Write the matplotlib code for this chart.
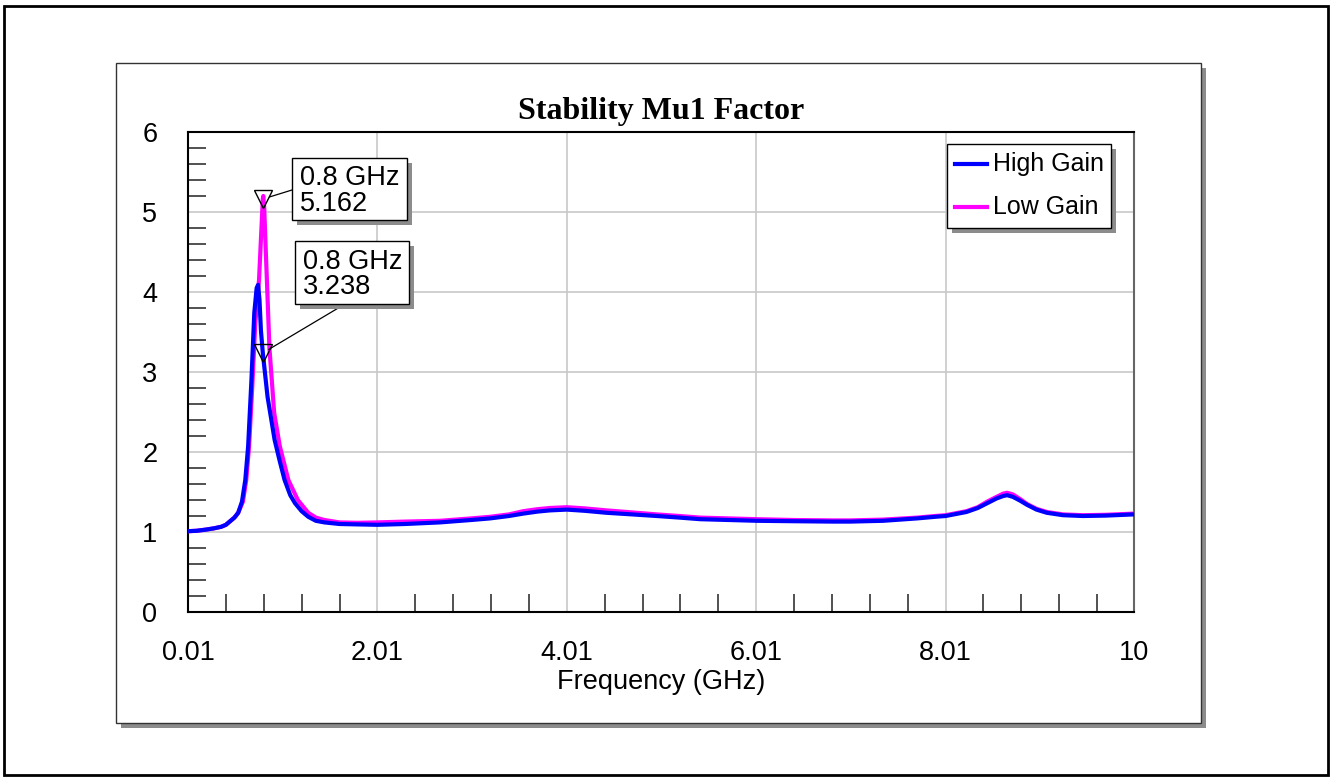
import matplotlib
matplotlib.use("Agg")
import matplotlib.pyplot as plt
from matplotlib.patches import Rectangle
from matplotlib.lines import Line2D
from matplotlib.ticker import MultipleLocator, FixedLocator

# ---- data ----
freq_high = [0.01, 0.1, 0.2, 0.28, 0.36, 0.41, 0.46, 0.50, 0.54, 0.58, 0.615,
             0.645, 0.68, 0.71, 0.735, 0.75, 0.765, 0.78, 0.80, 0.85, 0.925,
             0.98, 1.03, 1.09, 1.14, 1.21, 1.28, 1.36, 1.45, 1.61, 1.80, 2.01,
             2.30, 2.67, 3.00, 3.20, 3.40, 3.55, 3.70, 3.83, 4.01, 4.20, 4.43,
             4.70, 4.96, 5.20, 5.42, 6.02, 6.40, 6.82, 7.00, 7.35, 7.71, 7.90,
             8.01, 8.23, 8.35, 8.45, 8.55, 8.62, 8.66, 8.72, 8.80, 8.87, 8.97,
             9.08, 9.25, 9.46, 9.70, 10.0]
mu_high = [1.01, 1.015, 1.03, 1.045, 1.065, 1.09, 1.14, 1.18, 1.24, 1.38, 1.65,
           2.07, 2.9, 3.74, 4.05, 4.09, 3.9, 3.52, 3.238, 2.69, 2.15,
           1.88, 1.65, 1.46, 1.36, 1.26, 1.19, 1.14, 1.12, 1.10, 1.095, 1.09,
           1.10, 1.12, 1.15, 1.17, 1.20, 1.23, 1.255, 1.27, 1.28, 1.265, 1.24,
           1.22, 1.20, 1.18, 1.16, 1.14, 1.135, 1.13, 1.13, 1.14, 1.17, 1.19,
           1.20, 1.25, 1.30, 1.36, 1.42, 1.45, 1.46, 1.44, 1.39, 1.34, 1.28,
           1.24, 1.21, 1.20, 1.205, 1.22]

freq_low = [0.01, 0.1, 0.2, 0.28, 0.36, 0.41, 0.46, 0.50, 0.54, 0.59, 0.625,
            0.655, 0.69, 0.72, 0.76, 0.785, 0.80, 0.805, 0.815, 0.83, 0.87,
            0.92, 0.98, 1.07, 1.17, 1.28, 1.36, 1.45, 1.61, 1.80, 2.01, 2.30,
            2.67, 3.00, 3.20, 3.40, 3.55, 3.70, 3.83, 4.01, 4.20, 4.43, 4.70,
            4.96, 5.20, 5.42, 6.02, 6.40, 6.82, 7.00, 7.35, 7.71, 7.90, 8.01,
            8.23, 8.35, 8.45, 8.55, 8.62, 8.66, 8.72, 8.80, 8.87, 8.97, 9.08,
            9.25, 9.46, 9.70, 10.0]
mu_low = [1.01, 1.015, 1.03, 1.045, 1.065, 1.09, 1.14, 1.18, 1.24, 1.38, 1.65,
          2.07, 2.85, 3.6, 4.15, 4.78, 5.162, 5.2, 5.05, 4.56, 3.3,
          2.49, 2.07, 1.65, 1.40, 1.24, 1.18, 1.15, 1.12, 1.115, 1.12, 1.13,
          1.14, 1.17, 1.19, 1.22, 1.26, 1.285, 1.30, 1.31, 1.295, 1.27, 1.245,
          1.22, 1.20, 1.18, 1.16, 1.15, 1.145, 1.145, 1.155, 1.18, 1.20, 1.21,
          1.26, 1.31, 1.38, 1.44, 1.48, 1.49, 1.47, 1.41, 1.35, 1.29, 1.25,
          1.22, 1.21, 1.215, 1.23]

x_ticks = [0.01, 2.01, 4.01, 6.01, 8.01, 10]
x_tick_labels = ["0.01", "2.01", "4.01", "6.01", "8.01", "10"]
markers = [(0.8, 5.162, "0.8 GHz\n5.162"), (0.8, 3.238, "0.8 GHz\n3.238")]
series_names = ["High Gain", "Low Gain"]

W, H = 1331, 780
BLUE, MAGENTA = "#0000FF", "#FF00FF"
plt.rcParams["font.family"] = ["Liberation Sans", "DejaVu Sans"]


def fbox(x0, y0, x1, y1):
    """Pixel box (top-left origin) -> figure fraction (x, y, w, h)."""
    return x0 / W, (H - y1) / H, (x1 - x0) / W, (y1 - y0) / H


def shadow_box(fig, x0, y0, x1, y1, off=5, z=5, ec="black", lw=1.0):
    sx, sy, sw, sh = fbox(x0 + off, y0 + off, x1 + off, y1 + off)
    fig.add_artist(Rectangle((sx, sy), sw, sh, transform=fig.transFigure,
                             fc="#8c8c8c", ec="none", zorder=z))
    bx, by, bw, bh = fbox(x0, y0, x1, y1)
    fig.add_artist(Rectangle((bx, by), bw, bh, transform=fig.transFigure,
                             fc="white", ec=ec, lw=lw, zorder=z + 0.1))


fig = plt.figure(figsize=(W / 100, H / 100), dpi=100)

# outer border and chart panel
ox, oy, ow, oh = fbox(4, 6, 1328, 775)
fig.add_artist(Rectangle((ox, oy), ow, oh, transform=fig.transFigure,
                         fc="none", ec="black", lw=2.0, zorder=-3))
shadow_box(fig, 116, 63, 1201, 723, off=5, z=-2, ec="#333333", lw=1.0)

ax = fig.add_axes(fbox(188, 132, 1134, 612))
ax.plot(freq_low, mu_low, color=MAGENTA, lw=3.0, zorder=3)
ax.plot(freq_high, mu_high, color=BLUE, lw=3.0, zorder=4)

ax.set_xlim(0.01, 10)
ax.set_ylim(0, 6)
ax.xaxis.set_major_locator(FixedLocator(x_ticks))
ax.set_xticklabels(x_tick_labels)
ax.xaxis.set_minor_locator(FixedLocator([0.01 + 0.4 * i for i in range(1, 25)]))
ax.yaxis.set_major_locator(MultipleLocator(1))
ax.yaxis.set_minor_locator(MultipleLocator(0.2))
ax.tick_params(which="both", direction="in", length=13, width=1.2,
               color="#333333", labelsize=19.5)
ax.tick_params(axis="x", which="major", length=0, pad=20)
ax.tick_params(axis="y", which="major", length=0, pad=22)
ax.grid(True, which="major", color="#c8c8c8", lw=1.2)
ax.set_axisbelow(True)
for s in ["left", "bottom", "top"]:
    ax.spines[s].set_color("black")
    ax.spines[s].set_linewidth(1.5)
ax.spines["right"].set_color("#666666")
ax.spines["right"].set_linewidth(1.5)

ax.set_xlabel("Frequency (GHz)", fontsize=19.5, labelpad=2)
ax.set_title("Stability Mu1 Factor", fontsize=23, fontweight="bold",
             family=["Liberation Serif", "DejaVu Serif"], pad=9)

# marker annotations
boxes = [(292, 158, 407, 220, (292, 190)), (295, 241, 409, 304, (345, 304))]
for (fx, fy, label), (x0, y0, x1, y1, anchor) in zip(markers, boxes):
    ax.plot([fx], [fy], marker="v", ms=13, mfc="none", mec="black", mew=1.0,
            zorder=6)
    ax.annotate("", xy=(fx, fy), xycoords="data",
                xytext=(anchor[0], H - anchor[1]), textcoords="figure pixels",
                arrowprops=dict(arrowstyle="-", color="black", lw=0.9,
                                shrinkA=0, shrinkB=5))
    shadow_box(fig, x0, y0, x1, y1, off=5, z=5)
    fig.text((x0 + 8) / W, 1 - ((y0 + y1) / 2 + 2) / H, label, fontsize=19.5,
             va="center", ha="left", linespacing=0.98, zorder=6)

# legend
shadow_box(fig, 947, 144, 1111, 228, off=5, z=5)
for name, col, yy in zip(series_names, [BLUE, MAGENTA], [164, 207]):
    fig.add_artist(Line2D([955 / W, 987 / W], [1 - yy / H, 1 - yy / H],
                          transform=fig.transFigure, color=col, lw=3.0, zorder=6))
    fig.text(993 / W, 1 - yy / H, name, fontsize=18, va="center", ha="left",
             zorder=6)

fig.savefig("out.png", dpi=100, facecolor="white")
